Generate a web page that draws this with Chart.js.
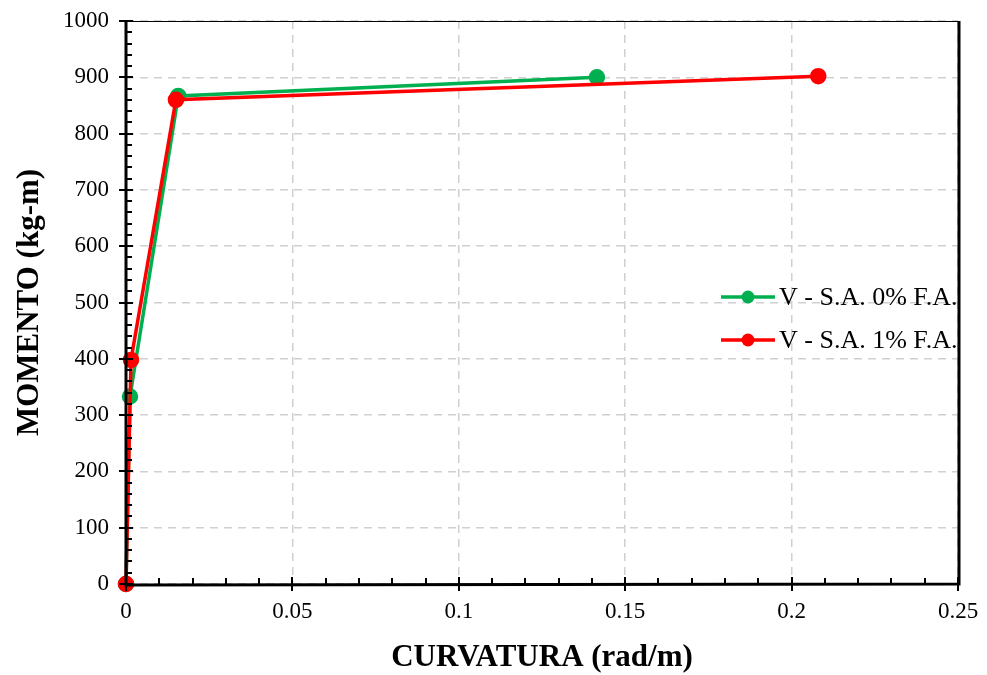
<!DOCTYPE html>
<html>
<head>
<meta charset="utf-8">
<script src="https://cdn.jsdelivr.net/npm/chart.js@4/dist/chart.umd.min.js"></script>
<style>
  html, body { margin: 0; padding: 0; background: #fff; }
  #wrap { width: 987px; height: 675px; position: relative; }
</style>
</head>
<body>
<div id="wrap"><canvas id="momento-curvatura"></canvas></div>
<script>
    "use strict";

    // data
    var curvaturaSA0 = [0, 0.0012, 0.0157, 0.1415];
    var momentoSA0 = [0, 333, 867, 900];
    var curvaturaSA1 = [0, 0.0015, 0.015, 0.208];
    var momentoSA1 = [0, 398, 860, 902];

    var xTicks = [0, 0.05, 0.1, 0.15, 0.2, 0.25];
    var xTickLabels = ["0", "0.05", "0.1", "0.15", "0.2", "0.25"];
    var yTicks = [0, 100, 200, 300, 400, 500, 600, 700, 800, 900, 1000];

    var serif = "'Liberation Serif', 'Times New Roman', serif";

    function toPoints(xs, ys) {
        return xs.map(function (x, i) { return { x: x, y: ys[i] }; });
    }

    // frame, tick marks, and legend drawn on the canvas
    var framePlugin = {
        id: "frame",
        afterDraw: function (chart) {
            var ctx = chart.ctx;
            var a = chart.chartArea;
            var xs = chart.scales.x, ys = chart.scales.y;
            ctx.save();
            ctx.strokeStyle = "#000";
            ctx.lineWidth = 1;
            ctx.strokeRect(a.left + 0.5, a.top + 0.5, a.right - a.left, a.bottom - a.top);

            ctx.lineWidth = 2;
            // minor ticks (inside)
            ctx.beginPath();
            for (var v = 0; v <= 1000; v += 20) {
                var py = Math.round(ys.getPixelForValue(v));
                ctx.moveTo(a.left, py); ctx.lineTo(a.left + 6, py);
            }
            for (var i = 0; i <= 25; i++) {
                var px = Math.round(xs.getPixelForValue(i / 100));
                ctx.moveTo(px, a.bottom); ctx.lineTo(px, a.bottom - 6);
            }
            ctx.stroke();
            // major ticks (cross)
            ctx.beginPath();
            yTicks.forEach(function (v) {
                var py = Math.round(ys.getPixelForValue(v));
                ctx.moveTo(a.left - 7, py); ctx.lineTo(a.left + 7, py);
            });
            xTicks.forEach(function (v) {
                var px = Math.round(xs.getPixelForValue(v));
                ctx.moveTo(px, a.bottom - 7); ctx.lineTo(px, a.bottom + 7);
            });
            ctx.stroke();

            // thick axes
            ctx.lineWidth = 3;
            ctx.beginPath();
            ctx.moveTo(a.left, a.top); ctx.lineTo(a.left, a.bottom + 1);
            ctx.lineTo(a.right + 1, a.bottom); ctx.lineTo(a.right + 1, a.top);
            ctx.stroke();

            // legend
            var rows = [chart.data.datasets[1], chart.data.datasets[0]];
            ctx.font = "26px " + serif;
            ctx.textBaseline = "middle";
            ctx.textAlign = "left";
            rows.forEach(function (ds, k) {
                var y = 297 + k * 43;
                ctx.strokeStyle = ds.borderColor;
                ctx.lineWidth = 3.5;
                ctx.beginPath();
                ctx.moveTo(721, y); ctx.lineTo(775, y);
                ctx.stroke();
                ctx.fillStyle = ds.borderColor;
                ctx.beginPath();
                ctx.arc(748, y, 6.5, 0, Math.PI * 2);
                ctx.fill();
                ctx.fillStyle = "#000";
                ctx.fillText(ds.label, 779, y + 1);
            });
            ctx.restore();
        }
    };

    var ctx = document.getElementById("momento-curvatura").getContext("2d");
    new Chart(ctx, {
        type: "line",
        data: {
            datasets: [
                {
                    label: "V - S.A. 1% F.A.",
                    data: toPoints(curvaturaSA1, momentoSA1),
                    borderColor: "#FF0000",
                    backgroundColor: "#FF0000",
                    borderWidth: 3.5,
                    pointRadius: 6.5,
                    pointHoverRadius: 6.5,
                    order: 0
                },
                {
                    label: "V - S.A. 0% F.A.",
                    data: toPoints(curvaturaSA0, momentoSA0),
                    borderColor: "#00B050",
                    backgroundColor: "#00B050",
                    borderWidth: 3.5,
                    pointRadius: 6.5,
                    pointHoverRadius: 6.5,
                    order: 1
                }
            ]
        },
        options: {
            responsive: true,
            maintainAspectRatio: false,
            animation: false,
            clip: false,
            layout: { padding: { left: 0, top: 21, right: 29, bottom: 0 } },
            plugins: {
                legend: { display: false },
                tooltip: { enabled: false }
            },
            scales: {
                x: {
                    type: "linear",
                    min: 0,
                    max: 0.25,
                    afterBuildTicks: function (s) {
                        s.ticks = xTicks.map(function (v) { return { value: v }; });
                    },
                    afterFit: function (s) {
                        s.height = 91;
                        s.paddingLeft = 0;
                        s.paddingRight = 0;
                    },
                    ticks: {
                        autoSkip: false,
                        maxRotation: 0,
                        padding: 14,
                        color: "#000",
                        font: { family: serif, size: 23 },
                        callback: function (v, i) { return xTickLabels[i]; }
                    },
                    grid: { color: "#d0d0d0", lineWidth: 1.5, drawTicks: false },
                    border: { display: false, dash: [8, 6] },
                    title: {
                        display: true,
                        text: "CURVATURA (rad/m)",
                        color: "#000",
                        font: { family: serif, size: 31, weight: "bold", lineHeight: 1 },
                        padding: { top: 2, bottom: 2 }
                    }
                },
                y: {
                    type: "linear",
                    min: 0,
                    max: 1000,
                    afterBuildTicks: function (s) {
                        s.ticks = yTicks.map(function (v) { return { value: v }; });
                    },
                    afterFit: function (s) {
                        s.width = 126;
                        s.paddingTop = 0;
                        s.paddingBottom = 0;
                    },
                    ticks: {
                        autoSkip: false,
                        padding: 17,
                        color: "#000",
                        font: { family: serif, size: 23 },
                        callback: function (v) { return String(v); }
                    },
                    grid: { color: "#d0d0d0", lineWidth: 1.5, drawTicks: false },
                    border: { display: false, dash: [8, 6] },
                    title: {
                        display: true,
                        text: "MOMENTO (kg-m)",
                        color: "#000",
                        font: { family: serif, size: 31, weight: "bold", lineHeight: 1 },
                        padding: { top: 14, bottom: 14 }
                    }
                }
            }
        },
        plugins: [framePlugin]
    });
</script>
</body>
</html>
